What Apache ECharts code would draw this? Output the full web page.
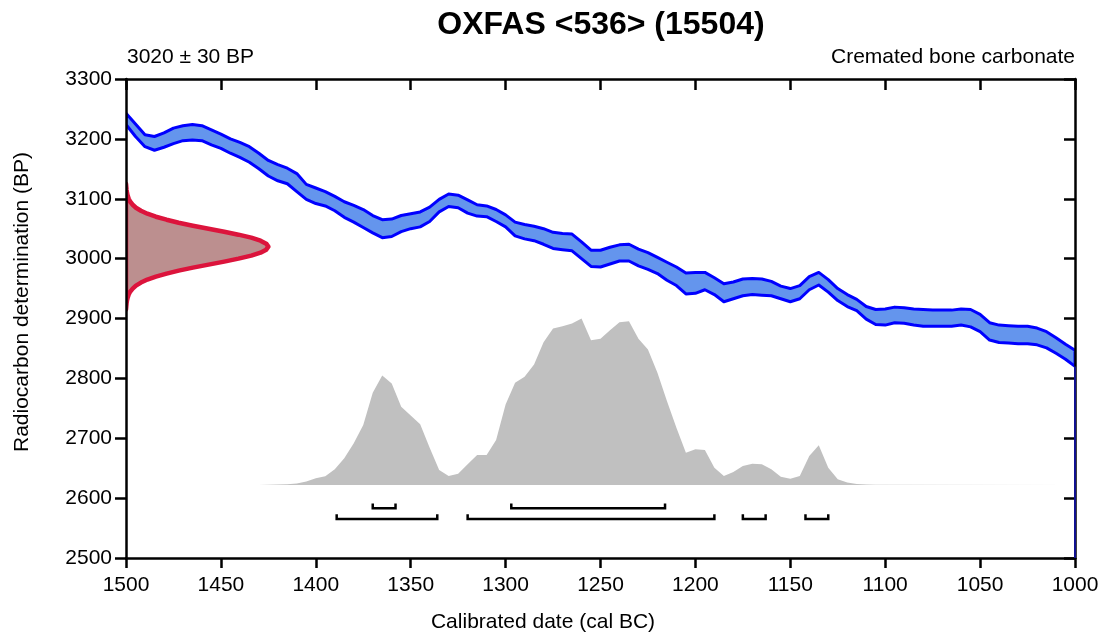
<!DOCTYPE html>
<html><head><meta charset="utf-8">
<script src="https://cdn.jsdelivr.net/npm/echarts@6/dist/echarts.min.js"></script>
<style>html,body{margin:0;padding:0;background:#fff}#c{width:1103px;height:634px}</style>
</head><body><div id="c"></div>
<script>
// ---- text ----
const titleText = 'OXFAS <536> (15504)';
const measuredBP = 3020;
const measuredErr = 30;
const materialText = 'Cremated bone carbonate';
const xAxisName = 'Calibrated date (cal BC)';
const yAxisName = 'Radiocarbon determination (BP)';

// ---- calibration curve band (cal BC, BP upper / lower) ----
const curveYears = [1500,1495,1490,1485,1480,1475,1470,1465,1460,1455,1450,1445,1440,1435,1430,1425,1420,1415,1410,1405,
  1400,1395,1390,1385,1380,1375,1370,1365,1360,1355,1350,1345,1340,1335,1330,1325,1320,1315,1310,1305,
  1300,1295,1290,1285,1280,1275,1270,1265,1260,1255,1250,1245,1240,1235,1230,1225,1220,1215,1210,1205,
  1200,1195,1190,1185,1180,1175,1170,1165,1160,1155,1150,1145,1140,1135,1130,1125,1120,1115,1110,1105,
  1100,1095,1090,1085,1080,1075,1070,1065,1060,1055,1050,1045,1040,1035,1030,1025,1020,1015,1010,1005,1000];
const curveUpper = [3243,3225,3207,3204,3210,3218,3222,3224,3222,3215,3208,3200,3194,3187,3176,3164,3157,3151,3142,3124,
  3118,3112,3104,3095,3089,3082,3072,3065,3066,3072,3075,3078,3086,3099,3108,3106,3098,3090,3088,3082,
  3073,3061,3057,3054,3050,3044,3042,3041,3028,3014,3014,3019,3023,3024,3016,3010,3002,2994,2986,2976,
  2977,2977,2968,2958,2961,2966,2967,2966,2962,2954,2950,2955,2970,2977,2965,2950,2940,2932,2920,2915,
  2916,2919,2918,2916,2915,2914,2914,2914,2916,2915,2907,2893,2889,2888,2887,2887,2884,2878,2868,2857,2847];
const curveLower = [3224,3204,3187,3181,3186,3192,3197,3198,3197,3190,3184,3176,3169,3161,3150,3138,3130,3125,3112,3099,
  3092,3088,3080,3069,3061,3052,3043,3035,3037,3045,3050,3053,3062,3078,3087,3085,3076,3071,3070,3062,
  3053,3038,3033,3030,3024,3017,3015,3013,3000,2987,2986,2991,2996,2996,2988,2982,2975,2964,2955,2941,
  2942,2948,2940,2928,2933,2938,2940,2939,2938,2933,2928,2933,2948,2956,2944,2930,2920,2913,2899,2890,
  2889,2893,2892,2889,2887,2887,2887,2887,2889,2886,2878,2864,2860,2859,2858,2858,2856,2851,2842,2832,2820];

// ---- measured date distribution (BP, relative density) ----
const gaussBP = [2915,2920,2925,2930,2935,2940,2945,2950,2955,2960,2965,2970,2975,2980,2985,2990,2995,3000,3005,3010,3015,
  3020,3025,3030,3035,3040,3045,3050,3055,3060,3065,3070,3075,3080,3085,3090,3095,3100,3105,3110,3115,3120,3125];
const gaussDensity = [0,0.002,0.004,0.007,0.012,0.019,0.03,0.047,0.07,0.105,0.15,0.21,0.285,0.37,0.47,0.58,0.69,0.79,0.88,0.945,0.985,
  1,0.985,0.945,0.88,0.79,0.69,0.58,0.47,0.37,0.285,0.21,0.15,0.105,0.07,0.047,0.03,0.019,0.012,0.007,0.004,0.002,0];

// ---- calibrated date distribution (cal BC, relative probability) ----
const distYears = [1430,1425,1420,1415,1410,1405,1400,1395,1390,1385,1380,1375,1370,1365,1360,1355,1350,1345,1340,1335,
  1330,1325,1320,1315,1310,1305,1300,1295,1290,1285,1280,1275,1270,1265,1260,1255,1250,1245,1240,1235,
  1230,1225,1220,1215,1210,1205,1200,1195,1190,1185,1180,1175,1170,1165,1160,1155,1150,1145,1140,1135,
  1130,1125,1120,1115,1110,1105,1100,1000];
const distProb = [0,0.001,0.002,0.004,0.008,0.02,0.04,0.052,0.095,0.16,0.25,0.36,0.554,0.658,0.61,0.47,0.418,0.364,0.224,0.09,
  0.054,0.068,0.124,0.18,0.18,0.27,0.484,0.614,0.65,0.724,0.858,0.94,0.954,0.97,1.0,0.87,0.878,0.93,0.978,0.984,
  0.878,0.814,0.674,0.504,0.344,0.194,0.214,0.21,0.104,0.054,0.078,0.114,0.128,0.124,0.094,0.05,0.038,0.054,0.174,0.238,
  0.104,0.034,0.014,0.005,0.002,0.001,0.001,0];

// ---- highest posterior density ranges (cal BC) ----
const ranges68 = [[1370,1358],[1297,1216]];
const ranges95 = [[1389,1336],[1320,1190],[1175,1163],[1142,1130]];

// ---- axes ----
const xMin = 1000, xMax = 1500, xStep = 50;
const yMin = 2500, yMax = 3300, yStep = 100;

// ---- drawing constants (layout / styling) ----
const FONT = "'Liberation Sans', Arial, sans-serif";
const gaussWidthYears = 75;     // horizontal extent of measured-date peak
const distBase = 2622;          // baseline of calibrated distribution
const distScale = 278;          // height of distribution peak in BP units
const row68 = 2583, row95 = 2565, bracketTick = 8;

function polySeries(getPoints, style, z) {
  return {
    type: 'custom', coordinateSystem: 'cartesian2d', clip: true, silent: true, z: z,
    data: [[1250, 2900]],
    renderItem: function (params, api) {
      return { type: 'polygon', shape: { points: getPoints().map(p => api.coord(p)) }, style: style };
    }
  };
}

const bandPoints = () => {
  const pts = curveYears.map((y, i) => [y, curveUpper[i]]);
  for (let i = curveYears.length - 1; i >= 0; i--) pts.push([curveYears[i], curveLower[i]]);
  return pts;
};
const gaussPoints = () => gaussBP.map((bp, i) => [xMax - gaussDensity[i] * gaussWidthYears, bp]);
const distPoints = () => {
  const pts = distYears.map((y, i) => [y, distBase + distProb[i] * distScale]);
  pts.push([distYears[distYears.length - 1], distBase]);
  pts.push([distYears[0], distBase]);
  return pts;
};

const bracketSeries = {
  type: 'custom', coordinateSystem: 'cartesian2d', silent: true, z: 5,
  data: ranges68.map(r => [r[0], r[1], row68]).concat(ranges95.map(r => [r[0], r[1], row95])),
  renderItem: function (params, api) {
    const a = api.value(0), b = api.value(1), row = api.value(2);
    const pts = [[a, row + bracketTick], [a, row], [b, row], [b, row + bracketTick]].map(p => api.coord(p));
    return { type: 'polyline', shape: { points: pts }, style: { stroke: '#000', lineWidth: 2.5, fill: null } };
  }
};

const plain = v => String(v);
const axisLine = { show: true, lineStyle: { color: '#000', width: 2.5 } };
const textStyle = (size, weight) => ({ fontFamily: FONT, fontSize: size, fontWeight: weight || 'normal', fill: '#000' });
const chart = echarts.init(document.getElementById('c'), null, { renderer: 'canvas' });
chart.setOption({
  backgroundColor: '#fff',
  animation: false,
  graphic: [
    { type: 'text', x: 601, y: 25, silent: true,
      style: Object.assign({ text: titleText, align: 'center', verticalAlign: 'middle' }, textStyle(32, 'bold')) },
    { type: 'text', x: 127, y: 57, silent: true,
      style: Object.assign({ text: measuredBP + ' \u00b1 ' + measuredErr + ' BP', align: 'left', verticalAlign: 'middle' }, textStyle(21)) },
    { type: 'text', x: 1075, y: 57, silent: true,
      style: Object.assign({ text: materialText, align: 'right', verticalAlign: 'middle' }, textStyle(21)) },
    { type: 'text', x: 543, y: 622, silent: true,
      style: Object.assign({ text: xAxisName, align: 'center', verticalAlign: 'middle' }, textStyle(21)) },
    { type: 'text', x: 22, y: 302, rotation: Math.PI / 2, silent: true,
      style: Object.assign({ text: yAxisName, align: 'center', verticalAlign: 'middle' }, textStyle(21)) }
  ],
  grid: { left: 126, right: 28, top: 79, bottom: 76, containLabel: false },
  xAxis: [
    { type: 'value', min: xMin, max: xMax, interval: xStep, inverse: true, position: 'bottom', z: 10,
      axisLine: axisLine, splitLine: { show: false },
      axisTick: { show: true, inside: false, length: 10, lineStyle: { color: '#000', width: 2.5 } },
      axisLabel: { margin: 17, fontFamily: FONT, fontSize: 21, color: '#000', formatter: plain } },
    { type: 'value', min: xMin, max: xMax, interval: xStep, inverse: true, position: 'top', z: 10,
      axisLine: axisLine, splitLine: { show: false },
      axisTick: { show: true, inside: true, length: 11, lineStyle: { color: '#000', width: 2.5 } },
      axisLabel: { show: false } }
  ],
  yAxis: [
    { type: 'value', min: yMin, max: yMax, interval: yStep, position: 'left', z: 10,
      axisLine: axisLine, splitLine: { show: false },
      axisTick: { show: true, inside: false, length: 11, lineStyle: { color: '#000', width: 2.5 } },
      axisLabel: { margin: 14, fontFamily: FONT, fontSize: 21, color: '#000', formatter: plain } },
    { type: 'value', min: yMin, max: yMax, interval: yStep, position: 'right', z: 10,
      axisLine: axisLine, splitLine: { show: false },
      axisTick: { show: true, inside: true, length: 11, lineStyle: { color: '#000', width: 2.5 } },
      axisLabel: { show: false } }
  ],
  series: [
    polySeries(distPoints, { fill: '#C0C0C0', stroke: null }, 2),
    polySeries(bandPoints, { fill: '#6495ED', stroke: '#0000FF', lineWidth: 3, lineJoin: 'round' }, 3),
    polySeries(gaussPoints, { fill: '#BC8F8F', stroke: '#DC143C', lineWidth: 4.5, lineJoin: 'round' }, 4),
    {
      type: 'line', silent: true, z: 11, symbol: 'none', clip: false,
      data: [[xMin, yMin], [xMin, curveLower[curveLower.length - 1]]],
      lineStyle: { color: '#101090', width: 2 }
    },
    bracketSeries
  ]
});
</script>
</body></html>
